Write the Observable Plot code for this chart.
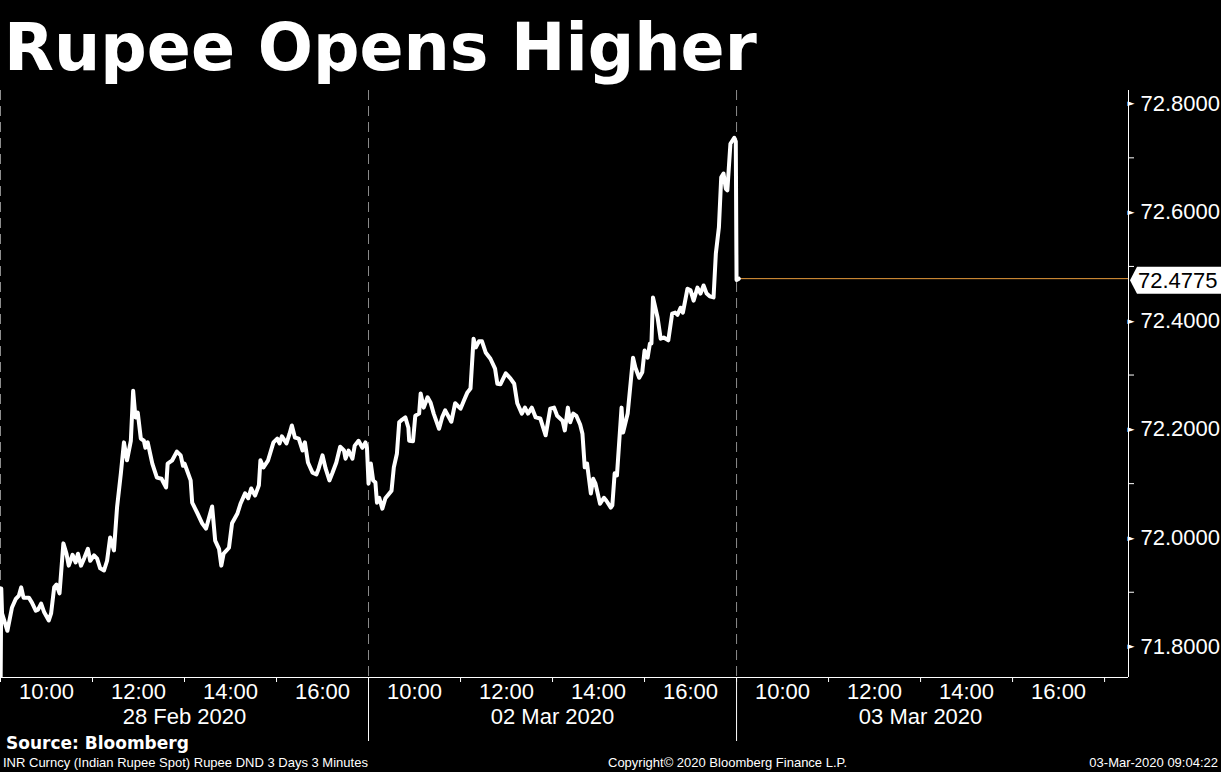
<!DOCTYPE html>
<html>
<head>
<meta charset="utf-8">
<script src="https://cdn.jsdelivr.net/npm/d3@7"></script>
<script src="https://cdn.jsdelivr.net/npm/@observablehq/plot@0.6"></script>
<style>
  html, body { margin: 0; padding: 0; background: #000; }
  #page { position: relative; width: 1221px; height: 772px; background: #000; overflow: hidden; color: #fff; }
  #title { position: absolute; left: 4px; top: 15px; font: bold 65px/1 "DejaVu Sans", sans-serif; color: #fff; white-space: nowrap; }
  #chart { position: absolute; left: 0; top: 88px; }
  #source { position: absolute; left: 6px; top: 735px; font: bold 17px/1 "DejaVu Sans", sans-serif; color: #fff; white-space: nowrap; }
  .foot { position: absolute; top: 756px; font: 13px/1 "Liberation Sans", sans-serif; color: #fff; white-space: nowrap; }
</style>
</head>
<body>
<div id="page">
  <div id="title">Rupee Opens Higher</div>
  <div id="chart"></div>
  <div id="source">Source: Bloomberg</div>
  <div class="foot" style="left:3px">INR Curncy (Indian Rupee Spot) Rupee DND 3 Days 3 Minutes</div>
  <div class="foot" style="left:608px">Copyright© 2020 Bloomberg Finance L.P.</div>
  <div class="foot" style="right:3px">03-Mar-2020 09:04:22</div>
</div>
<script>
// ---- data ----
const dayLabels = ["28 Feb 2020", "02 Mar 2020", "03 Mar 2020"];
const sessionOpen = 9, sessionHours = 8;
const timeTickLabels = ["10:00", "12:00", "14:00", "16:00"];
const yMajorTicks = [71.8, 72.0, 72.2, 72.4, 72.6, 72.8];
const yMinorTicks = [71.9, 72.1, 72.3, 72.5, 72.7];
const lastPrice = 72.4775;

const day1Quotes = [
["09:00",71.700],["09:01",71.907],["09:02",71.861],["09:09",71.829],["09:15",71.872],["09:20",71.888],
["09:24",71.894],["09:27",71.909],["09:30",71.890],["09:37",71.890],["09:41",71.881],["09:46",71.866],
["09:49",71.868],["09:53",71.879],["09:57",71.863],["10:03",71.848],["10:06",71.861],["10:10",71.909],
["10:13",71.914],["10:17",71.898],["10:22",71.990],["10:26",71.971],["10:29",71.949],["10:34",71.969],
["10:38",71.955],["10:41",71.971],["10:45",71.949],["10:49",71.962],["10:54",71.980],["10:57",71.958],
["11:02",71.968],["11:06",71.962],["11:10",71.944],["11:15",71.940],["11:19",71.958],["11:23",72.001],
["11:28",71.977],["11:32",72.056],["11:37",72.119],["11:41",72.176],["11:45",72.143],["11:50",72.179],
["11:53",72.271],["11:56",72.222],["11:59",72.231],["12:03",72.183],["12:07",72.179],["12:09",72.166],
["12:12",72.176],["12:18",72.137],["12:24",72.111],["12:30",72.109],["12:36",72.093],["12:38",72.137],
["12:44",72.143],["12:50",72.159],["12:55",72.152],["12:58",72.133],["13:00",72.137],["13:08",72.106],
["13:10",72.065],["13:17",72.045],["13:23",72.027],["13:28",72.017],["13:36",72.058],["13:40",71.995],
["13:45",71.980],["13:48",71.949],["13:51",71.971],["13:58",71.982],["14:02",72.027],["14:09",72.045],
["14:13",72.063],["14:19",72.082],["14:23",72.073],["14:27",72.091],["14:32",72.078],["14:37",72.097],
["14:39",72.143],["14:43",72.130],["14:49",72.143],["14:56",72.176],["15:01",72.183],["15:04",72.174],
["15:07",72.187],["15:13",72.174],["15:17",72.192],["15:20",72.207],["15:24",72.185],["15:29",72.183],
["15:34",72.161],["15:37",72.176],["15:41",72.139],["15:47",72.120],["15:52",72.117],["15:55",72.128],
["16:00",72.152],["16:04",72.128],["16:09",72.106],["16:13",72.120],["16:18",72.139],["16:23",72.168],
["16:28",72.161],["16:30",72.146],["16:34",72.161],["16:39",72.146],["16:42",72.170],["16:47",72.179],
["16:52",72.166],["16:56",72.176],["16:58",72.165]
];

const day2Quotes = [
["09:00",72.100],["09:03",72.137],["09:06",72.106],["09:09",72.102],["09:11",72.065],["09:14",72.074],
["09:18",72.054],["09:22",72.073],["09:30",72.087],["09:33",72.130],["09:37",72.155],["09:40",72.213],
["09:44",72.218],["09:48",72.222],["09:52",72.203],["09:53",72.179],["09:58",72.178],["10:01",72.225],
["10:06",72.229],["10:08",72.266],["10:12",72.240],["10:17",72.259],["10:21",72.249],["10:25",72.229],
["10:32",72.201],["10:36",72.222],["10:40",72.235],["10:48",72.214],["10:53",72.248],["11:00",72.238],
["11:05",72.255],["11:09",72.268],["11:13",72.275],["11:17",72.367],["11:20",72.351],["11:24",72.362],
["11:28",72.362],["11:33",72.341],["11:39",72.330],["11:45",72.312],["11:48",72.284],["11:52",72.283],
["11:59",72.303],["12:05",72.294],["12:10",72.284],["12:14",72.248],["12:20",72.229],["12:24",72.240],
["12:28",72.229],["12:33",72.240],["12:38",72.222],["12:44",72.220],["12:51",72.189],["12:57",72.238],
["13:02",72.240],["13:06",72.225],["13:13",72.216],["13:16",72.198],["13:20",72.240],["13:23",72.213],
["13:27",72.229],["13:31",72.225],["13:36",72.209],["13:39",72.192],["13:42",72.130],["13:45",72.137],
["13:50",72.082],["13:53",72.109],["13:56",72.100],["14:02",72.063],["14:07",72.074],["14:10",72.069],
["14:16",72.056],["14:18",72.060],["14:21",72.119],["14:24",72.115],["14:30",72.240],["14:32",72.194],
["14:38",72.229],["14:45",72.332],["14:48",72.314],["14:53",72.295],["14:57",72.305],["15:00",72.345],
["15:04",72.332],["15:07",72.358],["15:09",72.358],["15:11",72.443],["15:17",72.406],["15:21",72.367],
["15:25",72.369],["15:31",72.364],["15:36",72.413],["15:40",72.415],["15:43",72.411],["15:47",72.424],
["15:50",72.415],["15:56",72.459],["16:00",72.456],["16:04",72.437],["16:09",72.461],["16:13",72.450],
["16:17",72.465],["16:21",72.450],["16:25",72.445],["16:30",72.443],["16:33",72.524],["16:37",72.572],
["16:40",72.664],["16:43",72.671],["16:46",72.643],["16:48",72.640],["16:52",72.726],["16:57",72.737],
["16:59",72.730]
];

const day3Quotes = [["09:00",72.475],["09:03",72.4775]];

// ---- build ----
function sessionPos(dayIndex, hhmm) {
  const [h, m] = hhmm.split(":").map(Number);
  return dayIndex * sessionHours + (h + m / 60 - sessionOpen);
}
const rows = [day1Quotes, day2Quotes, day3Quotes].flatMap((q, i) =>
  q.map(([t, v]) => ({pos: sessionPos(i, t), rate: v})));

const xMax = 24.52;
const yMin = 71.743, yMax = 72.824;
const width = 1221, height = 656, mTop = 2, mBottom = 67, mLeft = 0, mRight = 93;
const frameH = height - mTop - mBottom;

const dayStarts = dayLabels.map((d, i) => i * sessionHours);
const daySeps = dayStarts.slice(1);
const dayCenters = dayLabels.map((d, i) => i * sessionHours + sessionHours / 2);
const minorX = d3.range(0, dayLabels.length * sessionHours + 1, 2);
const labelX = dayLabels.flatMap((d, i) => timeTickLabels.map(t => sessionPos(i, t)));
const lastPos = rows[rows.length - 1].pos;

const plot = Plot.plot({
  width, height, marginTop: mTop, marginBottom: mBottom, marginLeft: mLeft, marginRight: mRight,
  style: {background: "#000", color: "#fff", fontFamily: "Liberation Sans, sans-serif", fontSize: "22px"},
  x: {domain: [0, xMax], axis: null},
  y: {domain: [yMin, yMax], axis: null},
  marks: [
    Plot.ruleX(dayStarts, {stroke: "#8c8c8c", strokeDasharray: "10,6", strokeWidth: 1}),
    Plot.ruleX(daySeps, {stroke: "#fff", strokeWidth: 1, insetTop: frameH, insetBottom: -64}),
    Plot.ruleY([yMin], {stroke: "#fff", strokeWidth: 1}),
    Plot.ruleX([xMax], {stroke: "#fff", strokeWidth: 1}),
    Plot.axisX(minorX, {tickSize: 5, text: null, label: null, stroke: "#fff"}),
    Plot.axisX(labelX, {tickSize: 0, tickPadding: 6, label: null, fill: "#fff", fontSize: 22,
      tickFormat: d => timeTickLabels[Math.round(((d % sessionHours) - 1) / 2)]}),
    Plot.axisX(dayCenters, {tickSize: 0, tickPadding: 31, label: null, fill: "#fff", fontSize: 22,
      tickFormat: d => dayLabels[Math.floor(d / sessionHours)]}),
    Plot.axisY(yMinorTicks, {anchor: "right", tickSize: 5, text: null, label: null, stroke: "#fff"}),
    Plot.axisY(yMajorTicks, {anchor: "right", tickSize: 0, tickPadding: 12, label: null, fill: "#fff", fontSize: 22,
      tickFormat: d3.format(".4f")}),
    Plot.text(yMajorTicks, {x: () => xMax, y: d => d, text: () => "►", textAnchor: "start",
      fill: "#fff", fontSize: 9, fontFamily: "DejaVu Sans", dx: -1}),
    Plot.ruleY([lastPrice], {x1: lastPos, x2: xMax, stroke: "#e89b3c", strokeWidth: 1}),
    Plot.line(rows, {x: "pos", y: "rate", stroke: "#fff", strokeWidth: 4, strokeLinejoin: "round", clip: true})
  ]
});

// current-price tag on the right axis
const ty = plot.scale("y").apply(lastPrice) + 2;
const tx = plot.scale("x").apply(xMax) + 2;
const svg = d3.select(plot);
const tag = svg.append("g").attr("text-anchor", "start");
tag.append("path")
  .attr("d", `M${tx},${ty} L${tx + 7},${ty - 13.5} L${width},${ty - 13.5} L${width},${ty + 13.5} L${tx + 7},${ty + 13.5} Z`)
  .attr("fill", "#fff");
tag.append("text")
  .attr("x", tx + 8).attr("y", ty).attr("dy", "0.35em").attr("text-anchor", "start")
  .attr("fill", "#000").attr("font-size", 22).attr("font-family", "Liberation Sans, sans-serif")
  .text(d3.format(".4f")(lastPrice));

document.getElementById("chart").appendChild(plot);
</script>
</body>
</html>
